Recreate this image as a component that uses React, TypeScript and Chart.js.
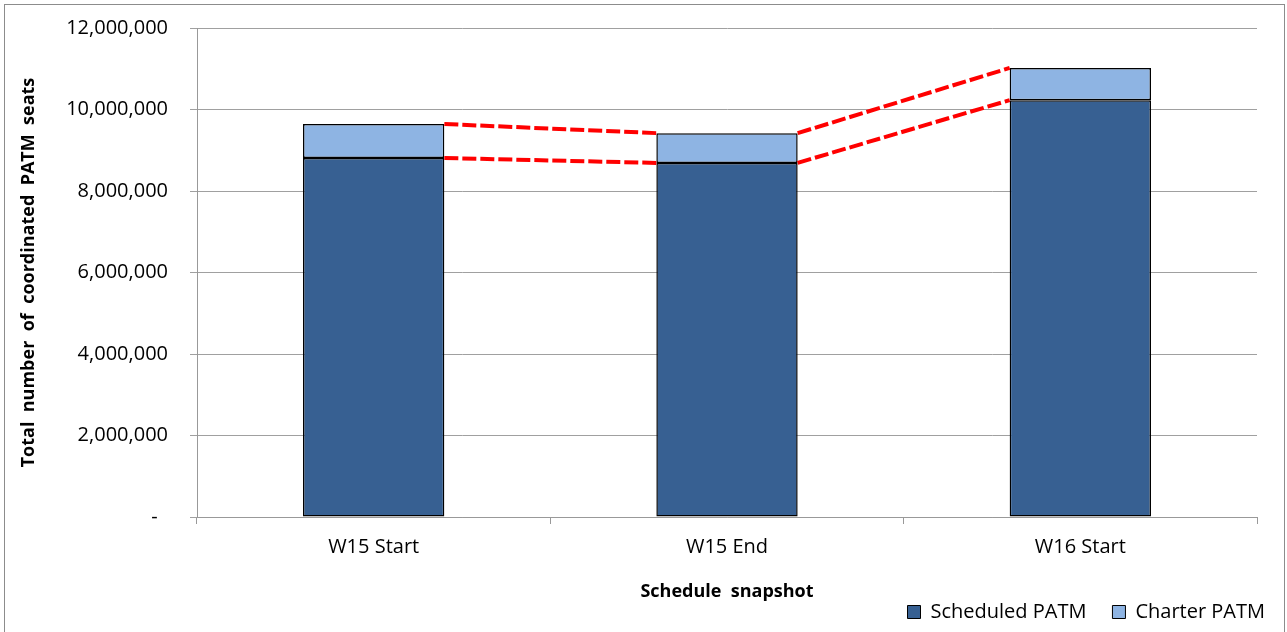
import React, { useEffect, useRef } from "react";
import { Chart, registerables } from "chart.js";

Chart.register(...registerables);

const categories = ["W15 Start", "W15 End", "W16 Start"];
const scheduledPATM = [8810000, 8690000, 10230000];
const charterPATM = [834000, 730000, 790000];
const yTicks = [0, 2000000, 4000000, 6000000, 8000000, 10000000, 12000000];

const FONT = "'Open Sans', 'DejaVu Sans', sans-serif";

const borderPlugin = {
  id: "outerBorder",
  beforeDraw(chart: any) {
    const ctx = chart.ctx;
    ctx.save();
    ctx.fillStyle = "#ffffff";
    ctx.fillRect(0, 0, chart.width, chart.height);
    ctx.strokeStyle = "#8c8c8c";
    ctx.lineWidth = 1;
    ctx.strokeRect(4.5, 4.5, 1280, 700);
    ctx.restore();
    if (chart.legend) chart.legend.right = 1291;
  },
};

const seriesLinesPlugin = {
  id: "seriesLines",
  afterDatasetsDraw(chart: any) {
    const ctx = chart.ctx;
    const yScale = chart.scales.y;
    const n = chart.data.labels.length;
    ctx.save();
    ctx.strokeStyle = "#ff0000";
    ctx.lineWidth = 4;
    ctx.setLineDash([14, 4]);
    const cum = new Array(n).fill(0);
    chart.data.datasets.forEach((ds: any, d: number) => {
      const meta = chart.getDatasetMeta(d);
      for (let i = 0; i < n; i++) cum[i] += ds.data[i];
      for (let i = 0; i < n - 1; i++) {
        const a = meta.data[i];
        const b = meta.data[i + 1];
        const x1 = a.x + a.width / 2;
        const x2 = b.x - b.width / 2;
        const y1 = yScale.getPixelForValue(cum[i]);
        const y2 = yScale.getPixelForValue(cum[i + 1]);
        ctx.beginPath();
        ctx.moveTo(x1, y1);
        ctx.lineTo(x2, y2);
        ctx.stroke();
      }
    });
    ctx.restore();
  },
};

export default function App() {
  const ref = useRef<HTMLCanvasElement>(null);
  useEffect(() => {
    const chart = new Chart(ref.current as HTMLCanvasElement, {
      type: "bar",
      data: {
        labels: categories,
        datasets: [
          {
            label: "Scheduled PATM",
            data: scheduledPATM,
            backgroundColor: "#376092",
            borderColor: "#000000",
            borderWidth: 1.5,
            borderSkipped: false,
            barPercentage: 0.4,
            categoryPercentage: 1,
          },
          {
            label: "Charter PATM",
            data: charterPATM,
            backgroundColor: "#8EB4E3",
            borderColor: "#000000",
            borderWidth: 1.5,
            borderSkipped: false,
            barPercentage: 0.4,
            categoryPercentage: 1,
          },
        ],
      },
      options: {
        responsive: false,
        animation: false,
        devicePixelRatio: 1,
        layout: { padding: { left: 10, right: 30, top: 28, bottom: 0 } },
        plugins: {
          legend: {
            position: "bottom",
            align: "end",
            labels: {
              font: { family: FONT, size: 20 },
              color: "#000",
              boxWidth: 13,
              boxHeight: 13,
              padding: 26,
              generateLabels: (chart: any) =>
                chart.data.datasets.map((ds: any, i: number) => ({
                  text: ds.label,
                  fillStyle: ds.backgroundColor,
                  strokeStyle: "#000",
                  lineWidth: 1,
                  datasetIndex: i,
                })),
            },
          },
          tooltip: { enabled: false },
        },
        scales: {
          x: {
            stacked: true,
            afterFit: (s: any) => {
              s.height = 59;
            },
            grid: {
              offset: true,
              drawOnChartArea: false,
              drawTicks: true,
              tickLength: 7,
              color: "#999999",
            },
            border: { color: "#999999" },
            ticks: {
              font: { family: FONT, size: 20 },
              color: "#000",
              padding: 11,
            },
            title: {
              display: true,
              text: "Schedule  snapshot",
              font: { family: FONT, size: 18, weight: "bold" },
              color: "#000",
              padding: { top: 0, bottom: -27 },
            },
          },
          y: {
            stacked: true,
            min: 0,
            max: 12000000,
            afterFit: (s: any) => {
              s.width = 187;
              s.paddingTop = 8;
              s.paddingBottom = 0;
            },
            afterBuildTicks: (s: any) => {
              s.ticks = yTicks.map((v) => ({ value: v }));
            },
            grid: {
              color: "#a0a0a0",
              tickLength: 7,
            },
            border: { color: "#999999" },
            ticks: {
              font: { family: FONT, size: 20 },
              color: "#000",
              padding: 22,
              callback: (v: any) => (Number(v) === 0 ? "-  " : Number(v).toLocaleString("en-US")),
            },
            title: {
              display: true,
              text: "Total  number  of  coordinated  PATM  seats",
              font: { family: FONT, size: 18, weight: "bold" },
              color: "#000",
              padding: { top: 8, bottom: 0 },
            },
          },
        },
      },
      plugins: [borderPlugin, seriesLinesPlugin],
    } as any);
    return () => chart.destroy();
  }, []);
  return (
    <div style={{ position: "absolute", left: 0, top: 0, width: 1287, height: 632 }}>
      <canvas ref={ref} width={1287} height={632} />
    </div>
  );
}
